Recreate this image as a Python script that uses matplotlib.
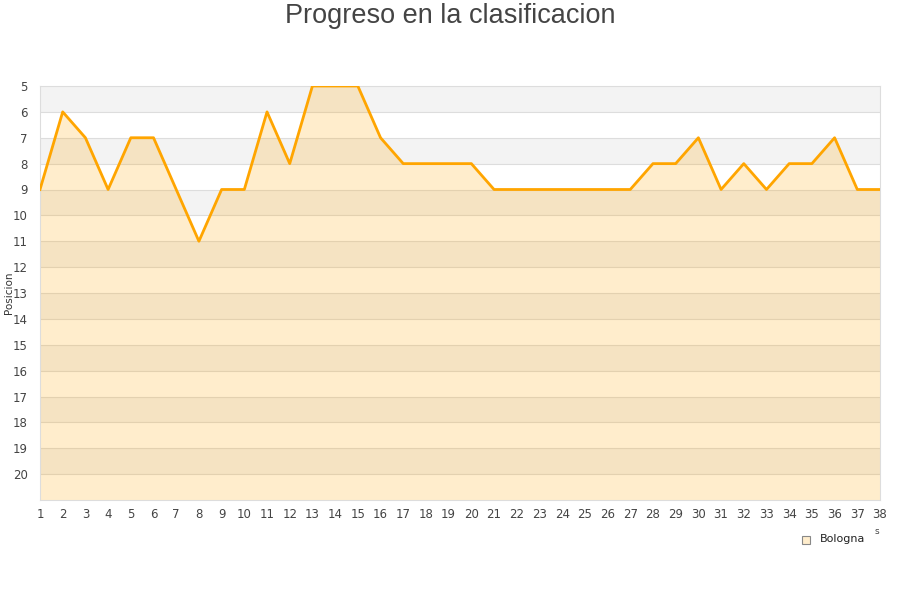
import numpy as np
import matplotlib
matplotlib.use("Agg")
import matplotlib.pyplot as plt
from matplotlib.patches import Rectangle

# jornadas y posicion del Bologna
jornadas = list(range(1, 39))
posicion = [9, 6, 7, 9, 7, 7, 9, 11, 9, 9,
            6, 8, 5, 5, 5, 7, 8, 8, 8, 8,
            9, 9, 9, 9, 9, 9, 9, 8, 8, 7,
            9, 8, 9, 8, 8, 7, 9, 9]
y_ticks = list(range(5, 21))
equipo = "Bologna"

fig = plt.figure(figsize=(9, 6), dpi=100)
ax = fig.add_axes([40/900, 100/600, 840/900, 414/600])

# bandas alternas
for y0 in range(5, 21, 2):
    ax.axhspan(y0, y0 + 1, color="#f3f3f3", lw=0, zorder=0)
for y in range(6, 21):
    ax.axhline(y, color="#dddddd", lw=0.8, zorder=1)

ax.fill_between(jornadas, posicion, 21, color="#ffa500", alpha=0.2, lw=0, zorder=2)
ax.plot(jornadas, posicion, color="#ffa500", lw=2.0, zorder=3)

ax.set_xlim(1, 38)
ax.set_ylim(21, 5)
ax.set_xticks(jornadas)
ax.set_yticks(y_ticks)
ax.tick_params(length=0, labelsize=8.5, colors="#444444", pad=6)
ax.tick_params(axis="y", pad=9)
for s in ax.spines.values():
    s.set_color("#dddddd")
ax.set_ylabel("Posicion", fontsize=7.5, color="#333333")
ax.yaxis.set_label_coords(-0.0305, 0.5)

fig.suptitle("Progreso en la clasificacion", fontsize=19.5, color="#444444",
             family="Liberation Sans", y=0.995)

# leyenda
fig.patches.append(Rectangle((802/900, (600-544)/600), 8/900, 8/600,
                             transform=fig.transFigure, facecolor="#ffedcc",
                             edgecolor="#888888", lw=0.8))
fig.text(820/900, (600-539)/600, equipo, fontsize=8, color="#222222", va="center")
fig.text(875/900, (600-531)/600, "s", fontsize=6.5, color="#444444", va="center")

fig.savefig("out.png", dpi=100)
